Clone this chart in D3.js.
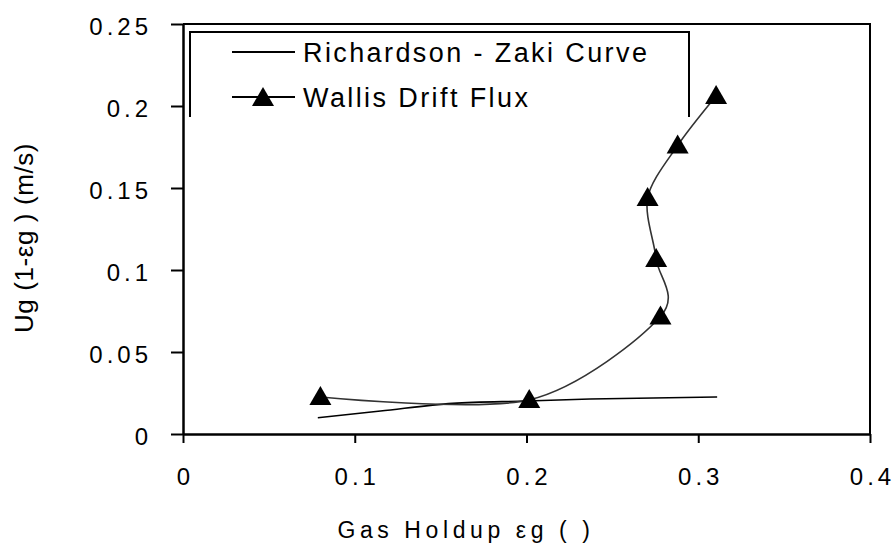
<!DOCTYPE html>
<html>
<head>
<meta charset="utf-8">
<script src="https://cdn.jsdelivr.net/npm/d3@7"></script>
<style>
  html, body { margin: 0; padding: 0; background: #fff; }
  svg { display: block; }
  text { font-family: "Liberation Sans", Arial, sans-serif; fill: #000; }
</style>
</head>
<body>
<svg id="chart" width="894" height="543"></svg>
<script>
// Gas holdup (x) vs. Ug(1-εg) (y)
const wallisHoldup = [0.080, 0.2016, 0.278, 0.2755, 0.2705, 0.288, 0.3104];
const wallisFlux   = [0.0226, 0.0208, 0.0716, 0.1067, 0.1439, 0.1759, 0.2061];

const rzHoldup = [0.0785, 0.115, 0.157, 0.200, 0.237, 0.311];
const rzFlux   = [0.0099, 0.0140, 0.0187, 0.0201, 0.0213, 0.0226];

const xTicks = [0, 0.1, 0.2, 0.3, 0.4];
const xTickLabels = ["0", "0.1", "0.2", "0.3", "0.4"];
const yTicks = [0, 0.05, 0.1, 0.15, 0.2, 0.25];
const yTickLabels = ["0", "0.05", "0.1", "0.15", "0.2", "0.25"];

const seriesNames = ["Richardson - Zaki Curve", "Wallis Drift Flux"];

const svg = d3.select("#chart");
const plot = { left: 183, right: 870, top: 24, bottom: 434 };

const x = d3.scaleLinear().domain([0, 0.4]).range([plot.left, plot.right]);
const y = d3.scaleLinear().domain([0, 0.25]).range([plot.bottom, plot.top]);

// plot frame (top and right edges)
svg.append("path")
  .attr("d", `M${plot.left},${plot.top}H${plot.right}V${plot.bottom}`)
  .attr("fill", "none").attr("stroke", "#000").attr("stroke-width", 2);

// axes
const xAxis = d3.axisBottom(x).tickValues(xTicks).tickSize(9).tickSizeOuter(0)
  .tickFormat((d, i) => xTickLabels[i]);
const yAxis = d3.axisLeft(y).tickValues(yTicks).tickSize(12).tickSizeOuter(0)
  .tickFormat((d, i) => yTickLabels[i]);

const gx = svg.append("g").attr("transform", `translate(0,${plot.bottom})`).call(xAxis);
const gy = svg.append("g").attr("transform", `translate(${plot.left},0)`).call(yAxis);

[gx, gy].forEach(g => {
  g.select(".domain").attr("stroke", "#000").attr("stroke-width", 2.5);
  g.selectAll(".tick line").attr("stroke", "#000").attr("stroke-width", 2);
  g.selectAll(".tick text")
    .attr("fill", "#000")
    .style("font-family", '"Liberation Sans", Arial, sans-serif')
    .style("font-size", "24px")
    .style("letter-spacing", "4px");
});
gx.selectAll(".tick text").attr("y", 0).attr("dy", 0)
  .attr("transform", "translate(2,51)");
gy.selectAll(".tick text").attr("x", -31).attr("dy", "0.42em");

// Richardson-Zaki curve
const rzData = rzHoldup.map((v, i) => [v, rzFlux[i]]);
svg.append("path")
  .datum(rzData)
  .attr("fill", "none").attr("stroke", "#000").attr("stroke-width", 1.6)
  .attr("d", d3.line().x(d => x(d[0])).y(d => y(d[1])).curve(d3.curveMonotoneX));

// Wallis drift flux curve with triangle markers
const wData = wallisHoldup.map((v, i) => [v, wallisFlux[i]]);
svg.append("path")
  .datum(wData)
  .attr("fill", "none").attr("stroke", "#333").attr("stroke-width", 1.6)
  .attr("d", d3.line().x(d => x(d[0])).y(d => y(d[1])).curve(d3.curveCardinal.tension(0.1)));

const triW = 22, triH = 19;
const tri = `M0,${-triH / 2 - 1.5}L${triW / 2},${triH / 2 - 1.5}L${-triW / 2},${triH / 2 - 1.5}Z`;
svg.append("g").selectAll("path")
  .data(wData).join("path")
  .attr("d", tri)
  .attr("transform", d => `translate(${x(d[0])},${y(d[1])})`)
  .attr("fill", "#000");

// legend (box open at the bottom)
const lg = svg.append("g");
lg.append("path")
  .attr("d", "M190,117V32H689V117")
  .attr("fill", "none").attr("stroke", "#000").attr("stroke-width", 2);
const rows = [52, 97];
rows.forEach((ry, i) => {
  lg.append("line").attr("x1", 232).attr("x2", 295).attr("y1", ry).attr("y2", ry)
    .attr("stroke", "#000").attr("stroke-width", 2);
  if (i === 1) {
    lg.append("path").attr("d", tri).attr("transform", `translate(263,${ry + 1})`).attr("fill", "#000");
  }
  lg.append("text").attr("x", 303).attr("y", ry + 10)
    .style("font-size", "27px").style("letter-spacing", "2.4px")
    .text(seriesNames[i]);
});

// axis titles
svg.append("text")
  .attr("x", 466).attr("y", 538).attr("text-anchor", "middle")
  .style("font-size", "23px").style("letter-spacing", "4.6px")
  .text("Gas Holdup εg ( )");

svg.append("text")
  .attr("transform", "translate(33,238) rotate(-90)")
  .attr("text-anchor", "middle")
  .style("font-size", "26px").style("letter-spacing", "0.6px")
  .text("Ug (1-εg ) (m/s)");
</script>
</body>
</html>
